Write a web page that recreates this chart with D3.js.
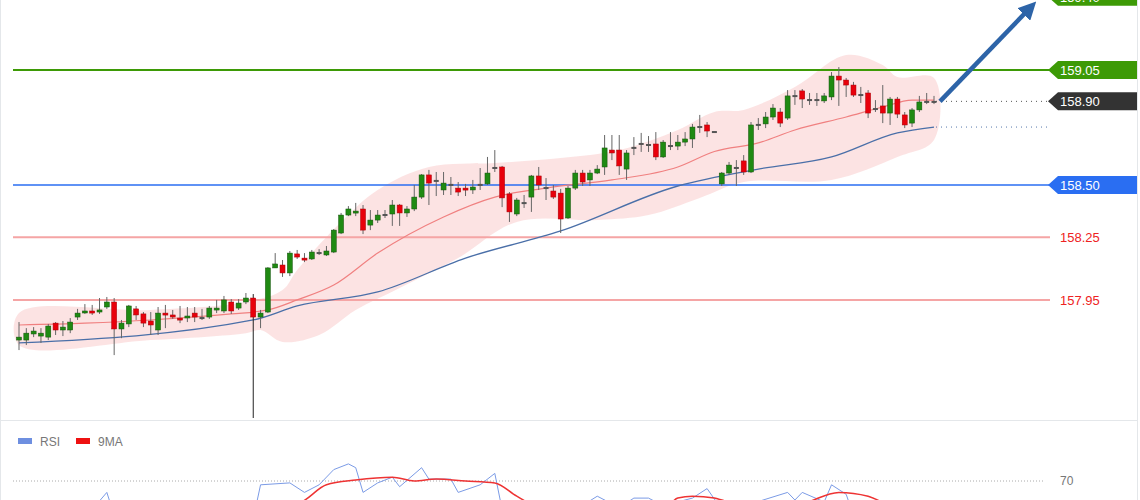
<!DOCTYPE html>
<html><head><meta charset="utf-8">
<script src="https://cdn.jsdelivr.net/npm/d3@7"></script>
<style>body{margin:0;background:#fff;font-family:"Liberation Sans",Arial,sans-serif}</style>
</head><body>
<script>
// candle data (price units)
let open = [157.758,157.758,157.787,157.777,157.772,157.839,157.806,157.806,157.868,157.892,157.897,157.892,157.916,157.940,157.811,157.835,157.907,157.883,157.849,157.806,157.887,157.878,157.863,157.868,157.887,157.868,157.868,157.902,157.897,157.940,157.911,157.940,157.959,157.868,157.892,158.103,158.117,158.079,158.170,158.150,158.146,158.179,158.165,158.179,158.270,158.356,158.371,158.385,158.308,158.332,158.361,158.361,158.404,158.366,158.385,158.442,158.548,158.524,158.476,158.505,158.485,158.485,158.476,158.505,158.505,158.586,158.586,158.457,158.361,158.418,158.442,158.543,158.490,158.471,158.461,158.342,158.485,158.557,158.524,158.557,158.586,158.667,158.667,158.576,158.682,158.701,158.696,158.696,158.634,158.691,158.686,158.705,158.720,158.782,158.787,158.758,158.505,158.557,158.586,158.615,158.562,158.792,158.792,158.825,158.849,158.820,158.930,158.950,158.911,158.911,158.902,158.921,159.021,159.002,158.978,158.935,158.940,158.868,158.878,158.844,158.911,158.835,158.796,158.859,158.902,158.902];
let close = [157.772,157.791,157.801,157.791,157.825,157.806,157.820,157.844,157.887,157.897,157.887,157.902,157.940,157.811,157.839,157.921,157.878,157.839,157.830,157.887,157.878,157.868,157.854,157.873,157.868,157.868,157.911,157.911,157.950,157.897,157.935,157.959,157.868,157.887,158.103,158.122,158.079,158.174,158.155,158.146,158.179,158.179,158.184,158.284,158.356,158.385,158.375,158.284,158.332,158.356,158.361,158.404,158.366,158.385,158.442,158.548,158.509,158.524,158.509,158.505,158.466,158.476,158.490,158.505,158.557,158.586,158.438,158.371,158.428,158.418,158.543,158.500,158.490,158.442,158.337,158.485,158.557,158.514,158.557,158.576,158.677,158.653,158.591,158.653,158.682,158.701,158.696,158.634,158.705,158.691,158.705,158.720,158.777,158.782,158.758,158.758,158.557,158.595,158.586,158.562,158.787,158.792,158.825,158.868,158.796,158.926,158.930,158.911,158.911,158.911,158.926,159.021,159.002,158.978,158.930,158.935,158.844,158.868,158.844,158.911,158.839,158.787,158.859,158.897,158.902,158.902];
let high = [157.844,157.815,157.820,157.815,157.835,157.844,157.849,157.863,157.907,157.930,157.926,157.959,157.964,157.959,157.854,157.926,157.921,157.892,157.892,157.916,157.926,157.902,157.921,157.916,157.916,157.907,157.921,157.950,157.969,157.954,157.954,157.983,157.978,157.902,158.107,158.174,158.141,158.184,158.189,158.174,158.189,158.193,158.208,158.289,158.366,158.399,158.414,158.404,158.380,158.380,158.380,158.428,158.409,158.399,158.500,158.552,158.572,158.562,158.562,158.538,158.514,158.505,158.524,158.581,158.634,158.667,158.591,158.466,158.438,158.452,158.548,158.586,158.533,158.500,158.481,158.495,158.572,158.572,158.572,158.595,158.739,158.739,158.739,158.667,158.729,158.749,158.734,158.753,158.715,158.753,158.739,158.753,158.792,158.835,158.801,158.758,158.562,158.610,158.619,158.643,158.801,158.820,158.849,158.887,158.868,158.954,158.954,158.959,158.940,158.940,158.940,159.040,159.064,159.012,158.993,158.969,158.954,158.906,158.978,158.921,158.921,158.849,158.868,158.926,158.940,158.926];
let low = [157.710,157.734,157.772,157.744,157.758,157.782,157.777,157.791,157.854,157.883,157.878,157.883,157.907,157.686,157.767,157.820,157.854,157.820,157.782,157.782,157.815,157.859,157.839,157.844,157.844,157.854,157.859,157.887,157.887,157.883,157.902,157.930,157.385,157.815,157.887,158.103,158.060,158.064,158.146,158.131,158.141,158.165,158.160,158.174,158.265,158.351,158.351,158.265,158.284,158.318,158.342,158.304,158.304,158.347,158.375,158.433,158.404,158.447,158.452,158.452,158.447,158.447,158.457,158.476,158.500,158.562,158.394,158.323,158.351,158.390,158.371,158.476,158.428,158.433,158.270,158.337,158.476,158.495,158.495,158.552,158.548,158.619,158.548,158.524,158.643,158.658,158.658,158.619,158.629,158.667,158.667,158.686,158.677,158.749,158.729,158.758,158.495,158.548,158.495,158.548,158.557,158.763,158.772,158.811,158.777,158.811,158.883,158.868,158.883,158.878,158.892,158.906,158.878,158.921,158.921,158.892,158.820,158.849,158.796,158.787,158.820,158.772,158.777,158.849,158.887,158.887];

// indicator lines, [candle index, price]
let maSlow = [[0,157.744],[32,157.854],[38,157.921],[49,157.988],[61,158.150],[74,158.280],[90,158.495],[101,158.576],[111,158.634],[120,158.749],[125,158.777]];
let maFast = [[0,157.830],[9,157.839],[18,157.854],[29,157.883],[34,157.902],[38,157.950],[43,158.021],[49,158.174],[58,158.347],[65,158.442],[72,158.485],[81,158.524],[90,158.586],[95,158.660],[101,158.701],[106,158.763],[113,158.825],[118,158.873],[122,158.906],[125,158.906]];
let bandTop = [[0,157.887],[18,157.902],[31,157.940],[36,157.997],[38,158.093],[44,158.323],[49,158.476],[56,158.586],[65,158.605],[74,158.629],[82,158.667],[90,158.763],[95,158.849],[99,158.859],[106,158.969],[113,159.122],[118,159.074],[120,159.016],[125,159.012]];
let bandBot = [[0,157.734],[18,157.758],[31,157.791],[33,157.806],[36,157.749],[41,157.782],[46,157.902],[52,158.007],[60,158.150],[68,158.323],[79,158.332],[86,158.356],[93,158.438],[99,158.514],[111,158.524],[120,158.634],[125,158.715]];

// RSI panel, [candle index, value]
let rsi = [[0,50],[10,55],[12,64],[13,52],[32,50],[33,68],[37,69],[39,64],[41,68],[43,76],[45,79],[46,77],[47,64],[49,69],[51,72],[52,67],[55,77],[56,71],[59,71],[60,64],[63,68],[65,74],[66,55],[74,50],[79,62],[82,56],[84,61],[86,61],[88,57],[92,61],[94,66],[96,55],[100,58],[105,64],[106,60],[107,64],[110,59],[111,68],[113,63],[114,52],[120,45],[125,48]];
let rsiMa = [[0,45],[38,58],[42,68],[46,70.5],[51,72],[54,70],[57,71],[61,70],[65,69],[68,62],[75,50],[88,55],[90,61],[92,62],[95,61],[96,60],[100,55],[107,58],[112,64],[116,62],[120,55],[125,52]];

let levels = [
  {v: 159.40, color: "#3d9a06", box: true, line: false},
  {v: 159.05, color: "#3d9a06", box: true, line: true},
  {v: 158.90, color: "#333333", box: true, line: false},
  {v: 158.50, color: "#2a6ef2", box: true, line: true},
  {v: 158.25, color: "#f5a5a5", box: false, line: true},
  {v: 157.95, color: "#f5a5a5", box: false, line: true}
];

let w = 1140, h = 500;
let svg = d3.select("body").append("svg").attr("width", w).attr("height", h);

let x = d3.scaleLinear().domain([0, 125]).range([19, 934]);
let y = d3.scaleLinear().domain([157.385, 159.05]).range([418, 70]);

// frame
svg.append("rect").attr("x", 0.5).attr("y", -1).attr("width", 1137).attr("height", 502)
   .attr("fill", "none").attr("stroke", "#e4e7ea");
svg.append("line").attr("x1", 0).attr("x2", 1138).attr("y1", 420.5).attr("y2", 420.5).attr("stroke", "#e4e7ea");

// bollinger band
svg.append("path")
   .datum(bandTop.concat(bandBot.slice().reverse()))
   .attr("d", d3.line().x(d => x(d[0])).y(d => y(d[1])).curve(d3.curveCatmullRomClosed))
   .attr("fill", "#fbdada").attr("opacity", 0.75);

// level lines
levels.filter(l => l.line).forEach(l => {
  svg.append("line").attr("x1", 13).attr("x2", 1050)
     .attr("y1", y(l.v)).attr("y2", y(l.v))
     .attr("stroke", l.color).attr("stroke-width", l.v == 158.50 ? 1.5 : 2);
});

// dotted extensions
svg.append("line").attr("x1", 936).attr("x2", 1048).attr("y1", y(158.90)).attr("y2", y(158.90))
   .attr("stroke", "#555").attr("stroke-dasharray", "1,4");
svg.append("line").attr("x1", 936).attr("x2", 1048).attr("y1", y(158.777)).attr("y2", y(158.777))
   .attr("stroke", "#5577aa").attr("stroke-dasharray", "1,4");

// moving averages
let ln = d3.line().x(d => x(d[0])).y(d => y(d[1])).curve(d3.curveMonotoneX);
svg.append("path").datum(maFast).attr("d", ln).attr("fill", "none").attr("stroke", "#f08080").attr("stroke-width", 1.2);
svg.append("path").datum(maSlow).attr("d", ln).attr("fill", "none").attr("stroke", "#4a6fa8").attr("stroke-width", 1.3);

// candles
let idx = d3.range(open.length);
svg.selectAll("line.wick").data(idx).enter().append("line")
   .attr("x1", i => x(i)).attr("x2", i => x(i))
   .attr("y1", i => y(high[i])).attr("y2", i => y(low[i]))
   .attr("stroke", i => i == 32 ? "#222" : "#666").attr("stroke-width", 1);
svg.selectAll("rect.body").data(idx).enter().append("rect")
   .attr("x", i => x(i) - 2.5).attr("width", 5)
   .attr("y", i => y(Math.max(open[i], close[i])))
   .attr("height", i => Math.max(2, Math.abs(y(open[i]) - y(close[i]))))
   .attr("fill", i => close[i] > open[i] ? "#1f8a12" : close[i] < open[i] ? "#e8000b" : "#555")
   .attr("stroke", i => close[i] > open[i] ? "#14520c" : close[i] < open[i] ? "#a50008" : "none")
   .attr("stroke-width", 0.5);

// arrow
svg.append("defs").append("marker").attr("id", "ah").attr("viewBox", "0 0 10 10")
   .attr("refX", 5).attr("refY", 5).attr("markerWidth", 4).attr("markerHeight", 4).attr("orient", "auto")
   .append("path").attr("d", "M0,0L10,5L0,10Z").attr("fill", "#2d64a8");
svg.append("line").attr("x1", 940).attr("y1", y(158.90)).attr("x2", 1030).attr("y2", 8)
   .attr("stroke", "#2d64a8").attr("stroke-width", 4.5).attr("marker-end", "url(#ah)");

// price labels
levels.forEach(l => {
  let yy = y(l.v);
  if (l.box) {
    svg.append("path")
       .attr("d", `M1048,${yy}L1058,${yy - 9}L1137,${yy - 9}L1137,${yy + 9}L1058,${yy + 9}Z`)
       .attr("fill", l.color);
  }
  svg.append("text").attr("x", 1060).attr("y", yy + 5)
     .attr("font-size", 13).attr("fill", l.box ? "#fff" : "#ee2222")
     .text(l.v.toFixed(2));
});

// RSI panel
let ry = v => 481 - (v - 70) * 1.9;
let g = svg.append("g");
g.append("rect").attr("x", 18).attr("y", 438).attr("width", 14).attr("height", 6).attr("fill", "#6e8fe0");
g.append("text").attr("x", 40).attr("y", 446).attr("font-size", 12).attr("fill", "#777").text("RSI");
g.append("rect").attr("x", 76).attr("y", 438).attr("width", 14).attr("height", 6).attr("fill", "#ee1111");
g.append("text").attr("x", 98).attr("y", 446).attr("font-size", 12).attr("fill", "#777").text("9MA");
g.append("line").attr("x1", 13).attr("x2", 1045).attr("y1", ry(70)).attr("y2", ry(70))
   .attr("stroke", "#aaa").attr("stroke-dasharray", "1,2");
g.append("text").attr("x", 1060).attr("y", ry(70) + 4).attr("font-size", 12).attr("fill", "#777").text("70");
let rl = d3.line().x(d => x(d[0])).y(d => ry(d[1]));
g.append("path").datum(rsi).attr("d", rl).attr("fill", "none").attr("stroke", "#7b9be6").attr("stroke-width", 1);
g.append("path").datum(rsiMa).attr("d", rl.curve(d3.curveMonotoneX)).attr("fill", "none").attr("stroke", "#ee3333").attr("stroke-width", 1.5);
</script>
</body></html>
